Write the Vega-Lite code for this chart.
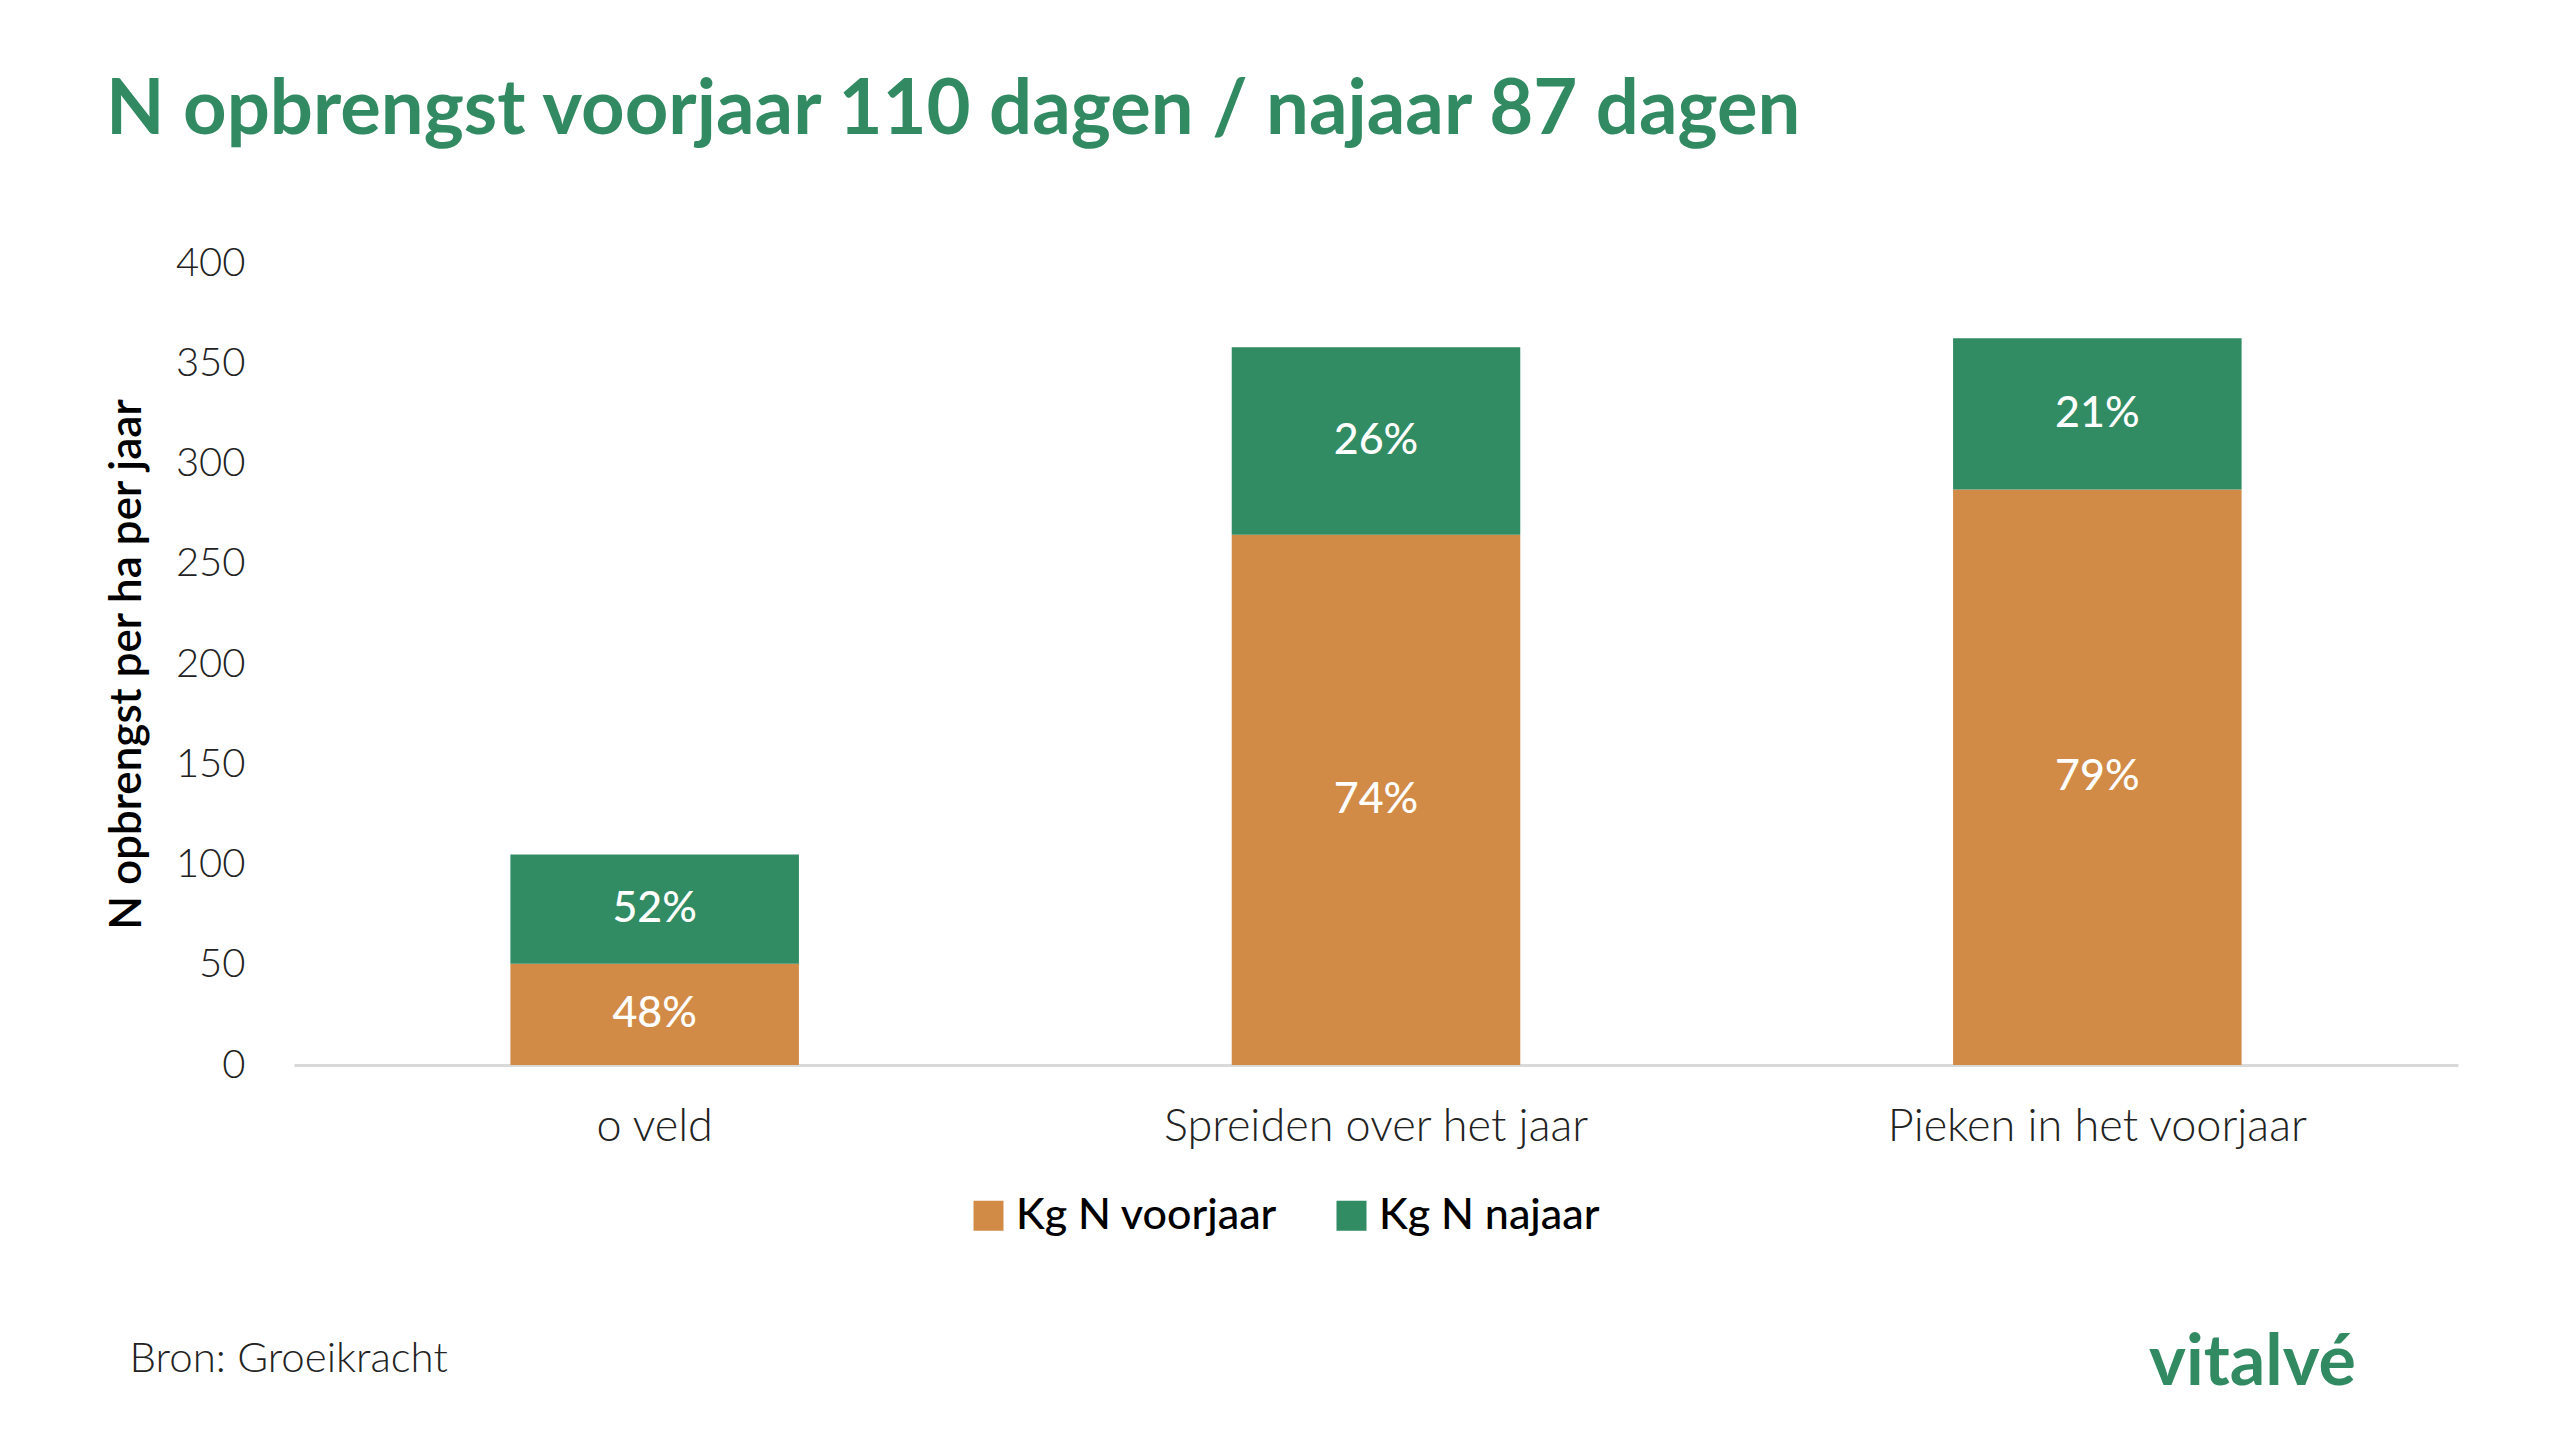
{
  "$schema": "https://vega.github.io/schema/vega-lite/v6.json",
  "autosize": {"type": "none"},
  "width": 2164,
  "height": 802,
  "padding": {"left": 294, "top": 263, "right": 108, "bottom": 372},
  "background": "white",
  "config": {"view": {"stroke": null}, "font": "Lato"},
  "title": {
    "text": "N opbrengst voorjaar 110 dagen / najaar 87 dagen",
    "anchor": "start",
    "frame": "group",
    "dx": -188,
    "offset": 33,
    "baseline": "alphabetic",
    "font": "Lato",
    "fontSize": 76,
    "fontWeight": "bold",
    "color": "#318A62"
  },
  "data": {
    "values": [
      {"category": "o veld", "series": "Kg N voorjaar", "value": 50.5, "pct": 0.48},
      {"category": "o veld", "series": "Kg N najaar", "value": 54.5, "pct": 0.52},
      {"category": "Spreiden over het jaar", "series": "Kg N voorjaar", "value": 264.5, "pct": 0.74},
      {"category": "Spreiden over het jaar", "series": "Kg N najaar", "value": 93.5, "pct": 0.26},
      {"category": "Pieken in het voorjaar", "series": "Kg N voorjaar", "value": 287, "pct": 0.79},
      {"category": "Pieken in het voorjaar", "series": "Kg N najaar", "value": 75.5, "pct": 0.21}
    ]
  },
  "layer": [
    {
      "layer": [
        {
          "mark": {"type": "bar"},
          "encoding": {
            "x": {
              "field": "category",
              "type": "nominal",
              "sort": null,
              "scale": {"paddingInner": 0.6, "paddingOuter": 0.3},
              "axis": {
                "labelAngle": 0,
                "ticks": false,
                "domainColor": "#D9D9D9",
                "domainWidth": 3,
                "labelFont": "Lato",
                "labelFontSize": 45,
                "labelFontWeight": 300,
                "labelColor": "#222222",
                "labelPadding": 39,
                "labelLimit": 1000,
                "title": "Bron: Groeikracht",
                "titleX": -165,
                "titleY": 293,
                "titleAlign": "left",
                "titleBaseline": "middle",
                "titleAnchor": null,
                "titleFont": "Lato",
                "titleFontSize": 42,
                "titleFontWeight": 300,
                "titleColor": "#222222"
              }
            },
            "y": {
              "field": "value",
              "type": "quantitative",
              "stack": "zero",
              "scale": {"domain": [0, 400]},
              "axis": {
                "values": [0, 50, 100, 150, 200, 250, 300, 350, 400],
                "grid": false,
                "ticks": false,
                "domain": false,
                "labelPadding": 49,
                "labelFont": "Lato",
                "labelFontSize": 40,
                "labelFontWeight": 300,
                "labelColor": "#222222",
                "title": "N opbrengst per ha per jaar",
                "titleFont": "Lato",
                "titleFontSize": 44,
                "titleFontWeight": 600,
                "titleColor": "#000000",
                "titleX": -167,
                "titleY": 401,
                "titleAlign": "center",
                "titleBaseline": "middle"
              }
            },
            "color": {
              "field": "series",
              "type": "nominal",
              "scale": {"domain": ["Kg N voorjaar", "Kg N najaar"], "range": ["#D18B47", "#318B63"]},
              "legend": {
                "title": null,
                "orient": "none",
                "direction": "horizontal",
                "legendX": 673,
                "legendY": 931,
                "padding": 0,
                "symbolType": "square",
                "symbolSize": 900,
                "symbolStrokeWidth": 0,
                "labelFont": "Lato",
                "labelFontSize": 43,
                "labelFontWeight": 500,
                "labelColor": "#000000",
                "labelOffset": 6,
                "columnPadding": 52,
                "labelLimit": 600
              }
            },
            "order": {"field": "series", "sort": "descending"}
          }
        },
        {
          "mark": {"type": "text", "color": "white", "font": "Lato", "fontSize": 43, "fontWeight": 500, "baseline": "middle", "align": "center"},
          "encoding": {
            "x": {"field": "category", "type": "nominal", "sort": null},
            "y": {"field": "value", "type": "quantitative", "stack": "zero", "bandPosition": 0.5},
            "text": {"field": "pct", "type": "quantitative", "format": ".0%"},
            "order": {"field": "series", "sort": "descending"}
          }
        }
      ]
    },
    {
      "mark": {"type": "rule", "opacity": 0},
      "encoding": {
        "y": {
          "field": "value",
          "type": "quantitative",
          "scale": {"domain": [0, 400]},
          "axis": {
            "orient": "right",
            "labels": false,
            "ticks": false,
            "domain": false,
            "grid": false,
            "title": "vitalvé",
            "titleAngle": 0,
            "titleX": -206,
            "titleY": 1100,
            "titleAlign": "center",
            "titleBaseline": "middle",
            "titleFont": "Lato",
            "titleFontSize": 70,
            "titleFontWeight": "bold",
            "titleColor": "#318A62"
          }
        }
      }
    }
  ],
  "resolve": {"scale": {"y": "independent"}, "axis": {"y": "independent"}}
}
